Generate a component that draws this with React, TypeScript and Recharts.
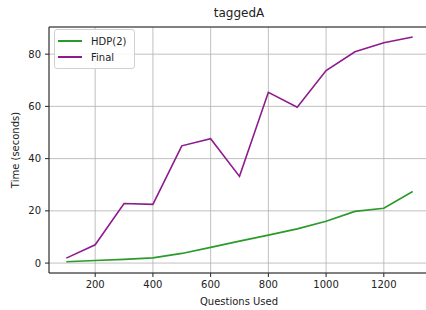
import { CartesianGrid, Line, LineChart, XAxis, YAxis } from "recharts";

const questions = [100, 200, 300, 400, 500, 600, 700, 800, 900, 1000, 1100, 1200, 1300];
const hdpTimes = [0.5, 1.0, 1.4, 2.0, 3.7, 6.0, 8.4, 10.7, 13.1, 16.0, 19.8, 21.0, 27.4];
const finalTimes = [1.9, 7.0, 22.8, 22.5, 44.9, 47.6, 33.2, 65.4, 59.7, 73.7, 80.9, 84.4, 86.6];
const xTicks = [200, 400, 600, 800, 1000, 1200];
const yTicks = [0, 20, 40, 60, 80];

const GREEN = "#2a9a2a";
const PURPLE = "#8e1b8e";
const FONT = "'DejaVu Sans', sans-serif";

const data = questions.map((q, i) => ({ q, hdp: hdpTimes[i], final: finalTimes[i] }));

function LegendBox() {
  const items = [
    { name: "HDP(2)", color: GREEN },
    { name: "Final", color: PURPLE },
  ];
  return (
    <div
      style={{
        position: "absolute",
        left: 54,
        top: 29,
        width: 79,
        height: 38,
        border: "1px solid #d0d0d0",
        borderRadius: 3,
        background: "rgba(255,255,255,0.85)",
        fontSize: 10,
        color: "#222",
      }}
    >
      {items.map((it, i) => (
        <div key={it.name} style={{ position: "absolute", left: 3, top: 5 + i * 16, display: "flex", alignItems: "center", height: 12 }}>
          <div style={{ width: 24, height: 2, background: it.color }} />
          <span style={{ marginLeft: 9 }}>{it.name}</span>
        </div>
      ))}
    </div>
  );
}

export default function App() {
  return (
    <div style={{ position: "absolute", left: 0, top: 0, width: 426, height: 310, overflow: "hidden", background: "#fff", fontFamily: FONT }}>
      <LineChart width={440} height={310} data={data} margin={{ top: 26, right: 10, bottom: 7, left: 0 }}>
        <CartesianGrid stroke="#b0b0b0" strokeWidth={0.8} />
        <XAxis
          dataKey="q"
          type="number"
          domain={[40, 1360]}
          ticks={xTicks}
          height={30}
          tickSize={4}
          tickMargin={4}
          stroke="#222"
          tick={{ fill: "#222", fontSize: 10, fontFamily: FONT }}
          allowDataOverflow
        />
        <XAxis xAxisId="top" orientation="top" type="number" domain={[40, 1360]} height={1} tick={false} tickLine={false} stroke="#222" />
        <YAxis
          type="number"
          domain={[-3.8, 90.4]}
          ticks={yTicks}
          width={49}
          tickSize={4}
          tickMargin={4}
          stroke="#222"
          tick={{ fill: "#222", fontSize: 10, fontFamily: FONT }}
          allowDataOverflow
        />
        <Line dataKey="hdp" name="HDP(2)" stroke={GREEN} strokeWidth={1.6} dot={false} isAnimationActive={false} />
        <Line dataKey="final" name="Final" stroke={PURPLE} strokeWidth={1.6} dot={false} isAnimationActive={false} />
      </LineChart>
      <LegendBox />
      <div style={{ position: "absolute", left: 0, width: 478, top: 6, textAlign: "center", fontSize: 12, color: "#222" }}>taggedA</div>
      <div style={{ position: "absolute", left: 0, width: 478, top: 296, textAlign: "center", fontSize: 10, color: "#222" }}>Questions Used</div>
      <div
        style={{
          position: "absolute",
          left: 15,
          top: 150,
          transform: "translate(-50%, -50%) rotate(-90deg)",
          whiteSpace: "nowrap",
          fontSize: 10,
          color: "#222",
        }}
      >
        Time (seconds)
      </div>
    </div>
  );
}
